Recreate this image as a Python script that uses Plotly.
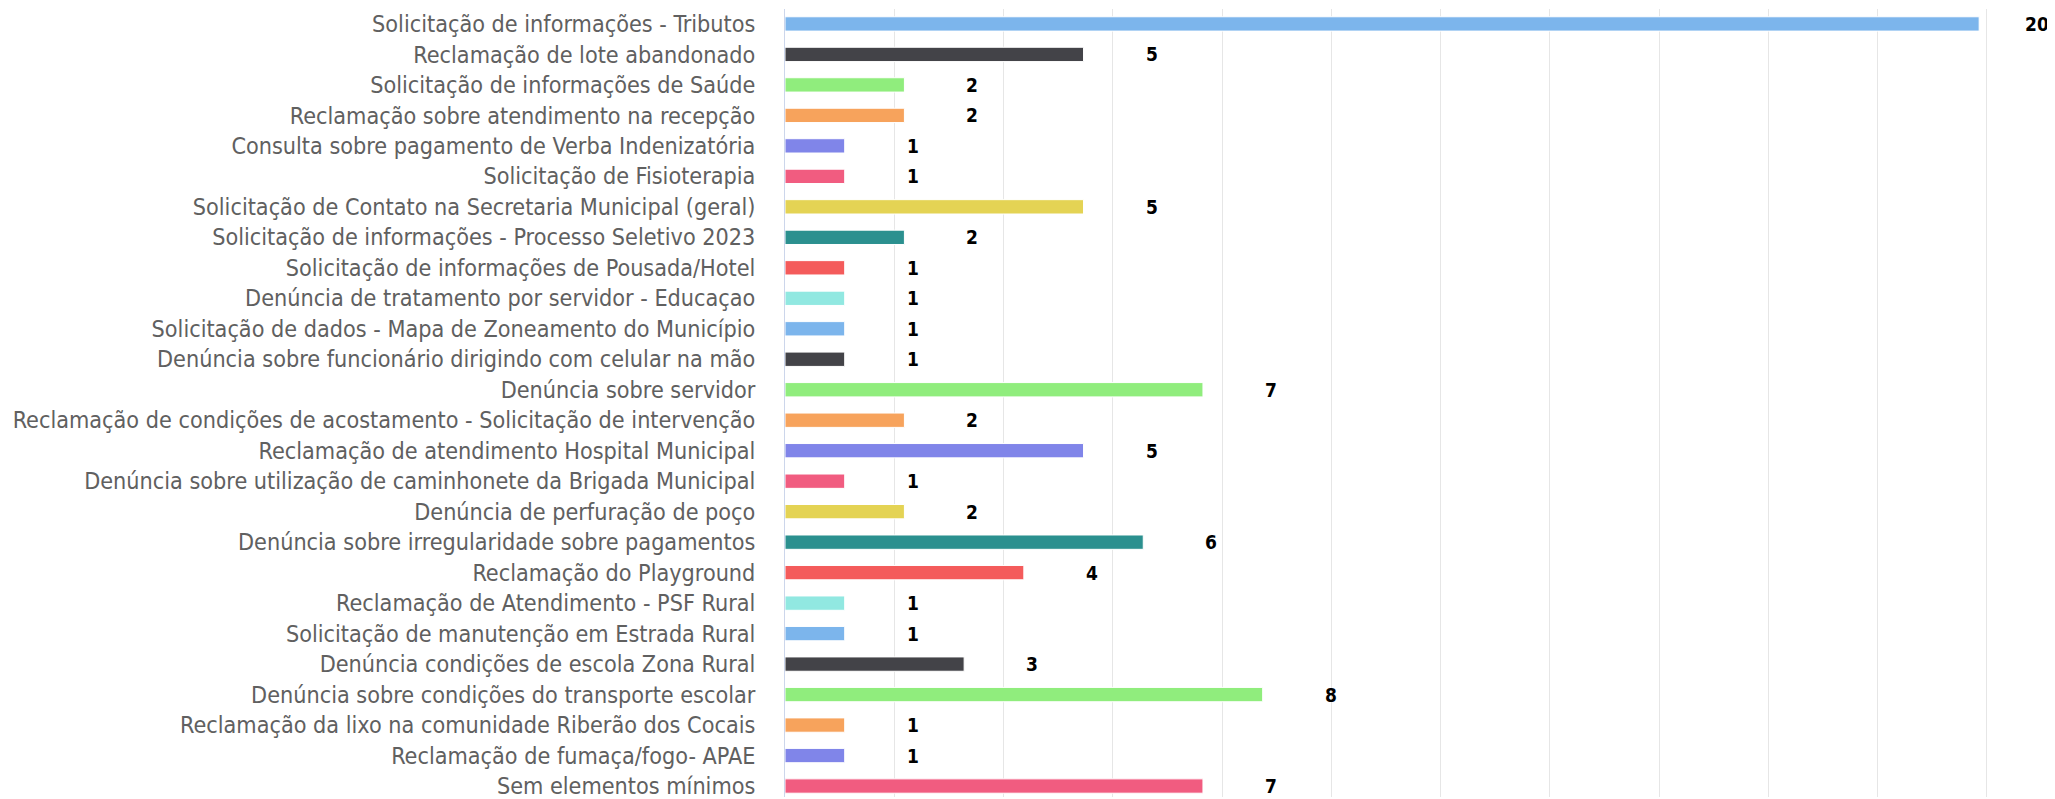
import plotly.graph_objects as go

categories = [
    "Solicitação de informações - Tributos",
    "Reclamação de lote abandonado",
    "Solicitação de informações de Saúde",
    "Reclamação sobre atendimento na recepção",
    "Consulta sobre pagamento de Verba Indenizatória",
    "Solicitação de Fisioterapia",
    "Solicitação de Contato na Secretaria Municipal (geral)",
    "Solicitação de informações - Processo Seletivo 2023",
    "Solicitação de informações de Pousada/Hotel",
    "Denúncia de tratamento por servidor - Educaçao",
    "Solicitação de dados - Mapa de Zoneamento do Município",
    "Denúncia sobre funcionário dirigindo com celular na mão",
    "Denúncia sobre servidor",
    "Reclamação de condições de acostamento - Solicitação de intervenção",
    "Reclamação de atendimento Hospital Municipal",
    "Denúncia sobre utilização de caminhonete da Brigada Municipal",
    "Denúncia de perfuração de poço",
    "Denúncia sobre irregularidade sobre pagamentos",
    "Reclamação do Playground",
    "Reclamação de Atendimento - PSF Rural",
    "Solicitação de manutenção em Estrada Rural",
    "Denúncia condições de escola Zona Rural",
    "Denúncia sobre condições do transporte escolar",
    "Reclamação da lixo na comunidade Riberão dos Cocais",
    "Reclamação de fumaça/fogo- APAE",
    "Sem elementos mínimos",
]
values = [20, 5, 2, 2, 1, 1, 5, 2, 1, 1, 1, 1, 7, 2, 5, 1, 2, 6, 4, 1, 1, 3, 8, 1, 1, 7]

palette = ["#7cb5ec", "#434348", "#90ed7d", "#f7a35c", "#8085e9",
           "#f15c80", "#e4d354", "#2b908f", "#f45b5b", "#91e8e1"]
colors = [palette[i % len(palette)] for i in range(len(categories))]

FONT = "DejaVu Sans Condensed"

fig = go.Figure()
fig.add_trace(go.Bar(
    x=values, y=categories, orientation="h",
    marker=dict(color=colors, line=dict(color="#ffffff", width=1)),
    width=0.47, hoverinfo="x+y",
))

vmax = max(values)
for c, v in zip(categories, values):
    fig.add_annotation(x=v, y=c, text=f"<b>{v}</b>", showarrow=False,
                       xanchor="left", xshift=44 if v == vmax else 60, yshift=0,
                       font=dict(family=FONT, size=19, color="#000000"))

n = len(categories)
fig.update_layout(
    width=2047, height=791,
    margin=dict(l=777, r=40, t=1, b=0),
    plot_bgcolor="#ffffff", paper_bgcolor="#ffffff",
    showlegend=False,
    font=dict(family=FONT, size=23, color="#606060"),
)
fig.update_xaxes(range=[0, 20.6], showticklabels=False, showgrid=True,
                 gridcolor="#e6e6e6", gridwidth=1, tick0=0, dtick=1.83,
                 zeroline=False, showline=False, ticks="")
fig.update_yaxes(type="category", categoryorder="array", categoryarray=categories,
                 range=[n - 1 + 0.36, -0.49], showgrid=False, showline=True,
                 linecolor="#ccd6eb", linewidth=1, ticks="", zeroline=False,
                 tickfont=dict(family=FONT, size=23.2, color="#606060"),
                 ticklabelstandoff=24)

fig.write_html("out.html")
